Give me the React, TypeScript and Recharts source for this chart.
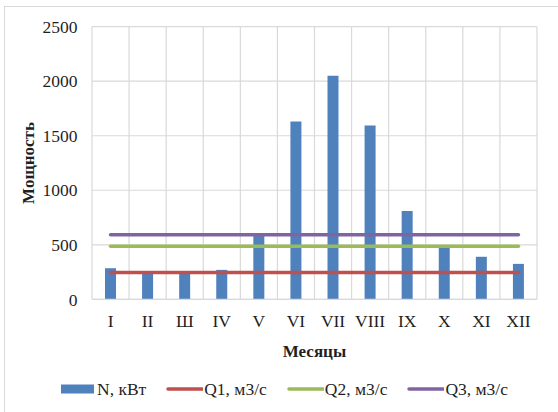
import React from 'react';
import { ComposedChart, Bar, Line, XAxis, YAxis, CartesianGrid, Legend, Label } from 'recharts';

const months = ['I', 'II', 'Ш', 'IV', 'V', 'VI', 'VII', 'VIII', 'IX', 'X', 'XI', 'XII'];
const powerN = [285, 240, 235, 270, 590, 1630, 2050, 1595, 810, 475, 390, 325];
const flowQ1 = [245, 245, 245, 245, 245, 245, 245, 245, 245, 245, 245, 245];
const flowQ2 = [487, 487, 487, 487, 487, 487, 487, 487, 487, 487, 487, 487];
const flowQ3 = [593, 593, 593, 593, 593, 593, 593, 593, 593, 593, 593, 593];
const yTicks = [0, 500, 1000, 1500, 2000, 2500];

const seriesNames = ['N, кВт', 'Q1, м3/с', 'Q2, м3/с', 'Q3, м3/с'];
const seriesColors = ['#4f81bd', '#c0504d', '#9bbb59', '#8064a2'];
const seriesKinds = ['bar', 'line', 'line', 'line'];

const data = months.map((m, i) => ({
  month: m,
  n: powerN[i],
  q1: flowQ1[i],
  q2: flowQ2[i],
  q3: flowQ3[i],
}));

const FONT = "'Liberation Serif', 'Times New Roman', serif";
const TEXT = '#1f1f1f';

const YTitle = (props: any) => {
  const vb = props.viewBox || { x: 0, y: 0, width: 0, height: 0 };
  const cx = vb.x + 28;
  const cy = vb.y + vb.height / 2;
  return (
    <text
      x={cx}
      y={cy}
      transform={`rotate(-90 ${cx} ${cy})`}
      textAnchor="middle"
      dominantBaseline="central"
      fontFamily={FONT}
      fontSize={17}
      fontWeight="bold"
      fill={TEXT}
    >
      Мощность
    </text>
  );
};

const LegendContent = () => (
  <div style={{ display: 'flex', alignItems: 'center', height: 20, fontFamily: FONT, fontSize: 17.5, color: TEXT, whiteSpace: 'nowrap' }}>
    {seriesNames.map((name, i) => (
      <div key={name} style={{ display: 'flex', alignItems: 'center', marginRight: 20 }}>
        <svg width={37} height={12} style={{ display: 'block' }}>
          {seriesKinds[i] === 'bar' ? (
            <rect x={2} y={1.5} width={33} height={9} fill={seriesColors[i]} />
          ) : (
            <line x1={2} y1={6} x2={36} y2={6} stroke={seriesColors[i]} strokeWidth={3.5} strokeLinecap="round" />
          )}
        </svg>
        <span style={{ marginLeft: 1, lineHeight: '20px' }}>{name}</span>
      </div>
    ))}
  </div>
);

export default function App() {
  return (
    <div style={{ position: 'fixed', left: 0, top: 0, width: 558, height: 412, overflow: 'hidden', background: '#fff' }}>
      <div
        style={{
          position: 'absolute',
          left: 4,
          top: 6,
          width: 700,
          height: 600,
          borderTop: '1.5px solid #d9d9d9',
          borderLeft: '1.5px solid #d9d9d9',
        }}
      />
      <div style={{ position: 'absolute', left: 0, top: 0 }}>
        <ComposedChart
          width={558}
          height={412}
          data={data}
          margin={{ top: 26.7, right: 21, left: 0, bottom: 82.7 }}
          barCategoryGap={0}
        >
          <CartesianGrid
            stroke="#d9d9d9"
            strokeWidth={1.2}
            verticalCoordinatesGenerator={({ offset }: any) =>
              Array.from({ length: months.length + 1 }, (_, i) => offset.left + (i * offset.width) / months.length)
            }
          />
          <XAxis
            dataKey="month"
            height={30}
            tickSize={0}
            tickMargin={15}
            axisLine={{ stroke: '#d9d9d9', strokeWidth: 1.2 }}
            tickLine={false}
            tick={{ fontFamily: FONT, fontSize: 17.5, fill: TEXT }}
            interval={0}
          >
            <Label
              value="Месяцы"
              position="bottom"
              offset={16}
              style={{ fontFamily: FONT, fontSize: 17, fontWeight: 'bold', fill: TEXT }}
            />
          </XAxis>
          <YAxis
            width={92}
            domain={[0, 2500]}
            ticks={yTicks}
            tickSize={0}
            tickMargin={14.5}
            axisLine={false}
            tickLine={false}
            tick={{ fontFamily: FONT, fontSize: 17.5, fill: TEXT }}
            label={<YTitle />}
          />
          <Legend
            layout="horizontal"
            verticalAlign="middle"
            align="center"
            wrapperStyle={{ left: 59, top: 379, width: 520, height: 20 }}
            content={<LegendContent />}
          />
          <Bar dataKey="n" name={seriesNames[0]} fill={seriesColors[0]} barSize={11} isAnimationActive={false} />
          <Line dataKey="q1" name={seriesNames[1]} type="linear" stroke={seriesColors[1]} strokeWidth={3.5} strokeLinecap="round" dot={false} activeDot={false} isAnimationActive={false} />
          <Line dataKey="q2" name={seriesNames[2]} type="linear" stroke={seriesColors[2]} strokeWidth={3.5} strokeLinecap="round" dot={false} activeDot={false} isAnimationActive={false} />
          <Line dataKey="q3" name={seriesNames[3]} type="linear" stroke={seriesColors[3]} strokeWidth={3.5} strokeLinecap="round" dot={false} activeDot={false} isAnimationActive={false} />
        </ComposedChart>
      </div>
    </div>
  );
}
